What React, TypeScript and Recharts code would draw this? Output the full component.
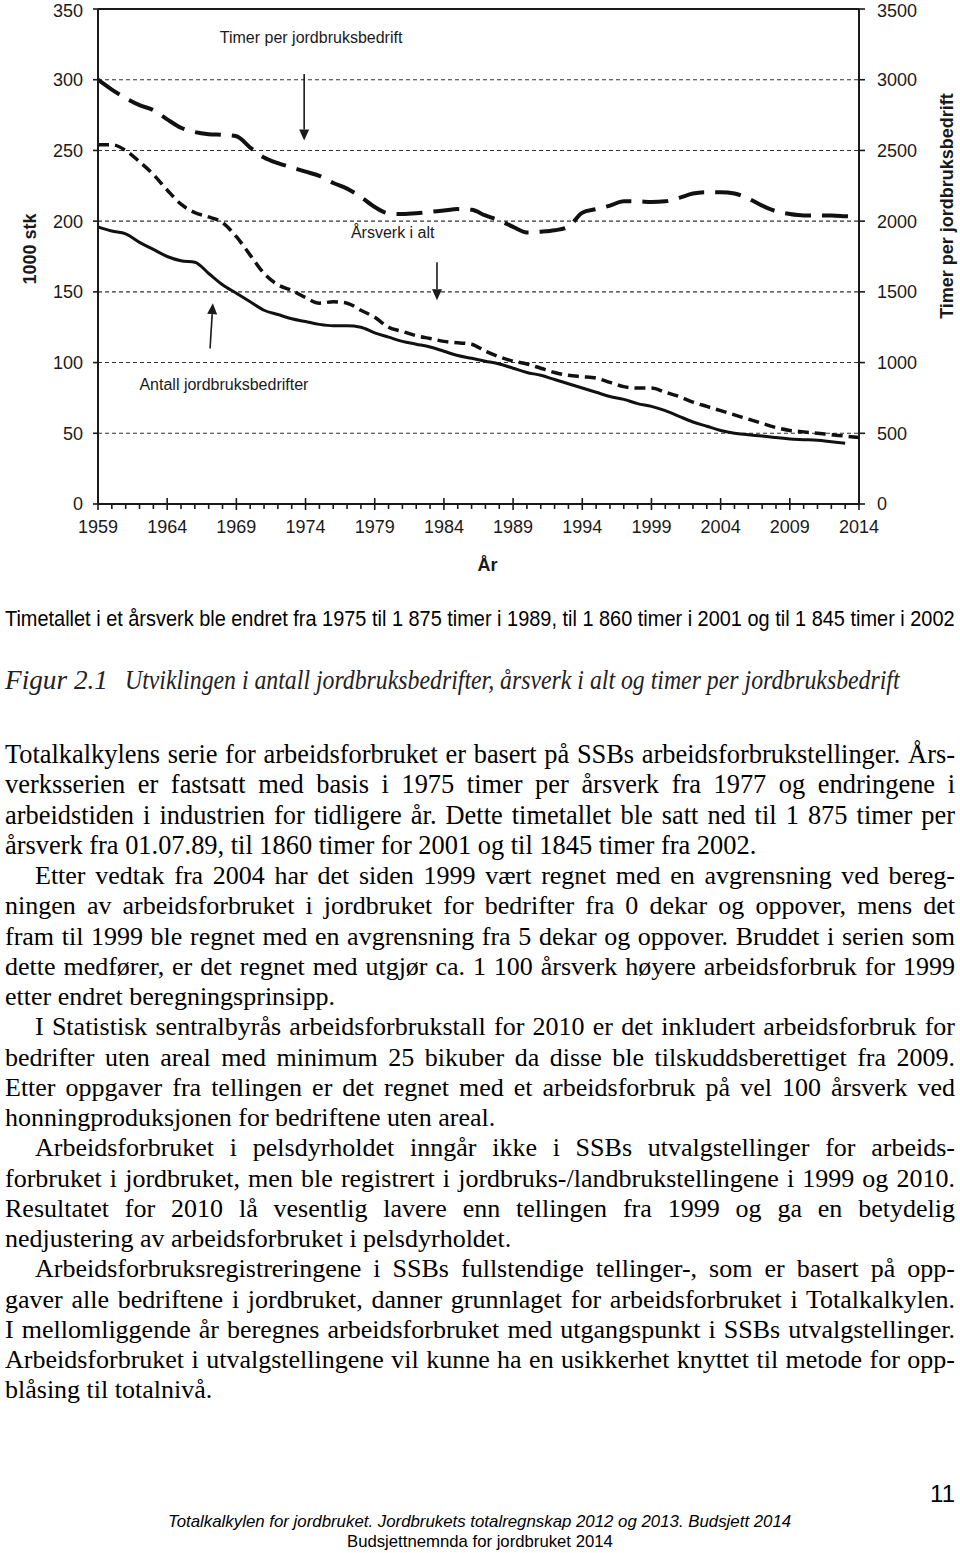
import React, { useLayoutEffect, useRef, useState } from 'react'
import { LineChart, Line, XAxis, YAxis, CartesianGrid, ReferenceLine, ReferenceDot, Label } from 'recharts'

// Values (1000 stk on the left axis, timer on the right axis)
const years = [
  1959, 1960, 1961, 1962, 1963, 1964, 1965, 1966, 1967, 1968, 1969, 1970, 1971, 1972,
  1973, 1974, 1975, 1976, 1977, 1978, 1979, 1980, 1981, 1982, 1983, 1984, 1985, 1986,
  1987, 1988, 1989, 1990, 1991, 1992, 1993, 1994, 1995, 1996, 1997, 1998, 1999, 2000,
  2001, 2002, 2003, 2004, 2005, 2006, 2007, 2008, 2009, 2010, 2011, 2012, 2013, 2014,
]

const antallBedrifter = [
  196, 193, 191, 185, 180, 175, 172, 171, 163, 155, 149, 143, 137, 134,
  131, 129, 127, 126, 126, 125, 121, 118, 115, 113, 111, 108, 105, 103,
  101, 99, 96, 93, 91, 88, 85, 82, 79, 76, 74, 71, 69, 66,
  62, 58, 55, 52, 50, 49, 48, 47, 46, 45.5, 45, 44, 43, null,
]

const arsverkIAlt = [
  254, 254, 250, 242, 233, 222, 212, 206, 203, 199, 189, 176, 163, 155,
  151, 146, 142, 143, 142, 137, 132, 125, 122, 119, 117, 115, 114, 113,
  108, 104, 101, 99, 96, 93, 91, 90, 89, 86, 83, 82, 82, 79,
  76, 72, 69, 66, 63, 60, 57, 54, 52, 51, 50, 49, 48, 47,
]

const timerPerBedrift = [
  3000, 2930, 2870, 2820, 2785, 2720, 2660, 2630, 2615, 2610, 2600, 2520, 2450, 2410,
  2380, 2350, 2320, 2270, 2230, 2170, 2100, 2055, 2050, 2055, 2065, 2075, 2085, 2080,
  2040, 2005, 1960, 1920, 1925, 1935, 1960, 2060, 2085, 2110, 2140, 2140, 2135, 2140,
  2165, 2195, 2205, 2205, 2195, 2160, 2110, 2070, 2050, 2040, 2040, 2040, 2035, 2030,
]

const labelYears = [1959, 1964, 1969, 1974, 1979, 1984, 1989, 1994, 1999, 2004, 2009, 2014]
const leftTicks = [0, 50, 100, 150, 200, 250, 300, 350]
const rightTicks = [0, 500, 1000, 1500, 2000, 2500, 3000, 3500]

const data = years.map((year, i) => ({
  year,
  antall: antallBedrifter[i],
  arsverk: arsverkIAlt[i],
  timer: timerPerBedrift[i],
}))

const noteText = 'Timetallet i et årsverk ble endret fra 1975 til 1 875 timer i 1989, til 1 860 timer i 2001 og til 1 845 timer i 2002'
const figNumber = 'Figur 2.1'
const figTitle = 'Utviklingen i antall jordbruksbedrifter, årsverk i alt og timer per jordbruksbedrift'

const bodyLines = [
  'Totalkalkylens serie for arbeidsforbruket er basert på SSBs arbeidsforbrukstellinger. Års-',
  'verksserien er fastsatt med basis i 1975 timer per årsverk fra 1977 og endringene i',
  'arbeidstiden i industrien for tidligere år. Dette timetallet ble satt ned til 1 875 timer per',
  'årsverk fra 01.07.89, til 1860 timer for 2001 og til 1845 timer fra 2002.',
  'Etter vedtak fra 2004 har det siden 1999 vært regnet med en avgrensning ved bereg-',
  'ningen av arbeidsforbruket i jordbruket for bedrifter fra 0 dekar og oppover, mens det',
  'fram til 1999 ble regnet med en avgrensning fra 5 dekar og oppover. Bruddet i serien som',
  'dette medfører, er det regnet med utgjør ca. 1 100 årsverk høyere arbeidsforbruk for 1999',
  'etter endret beregningsprinsipp.',
  'I Statistisk sentralbyrås arbeidsforbrukstall for 2010 er det inkludert arbeidsforbruk for',
  'bedrifter uten areal med minimum 25 bikuber da disse ble tilskuddsberettiget fra 2009.',
  'Etter oppgaver fra tellingen er det regnet med et arbeidsforbruk på vel 100 årsverk ved',
  'honningproduksjonen for bedriftene uten areal.',
  'Arbeidsforbruket i pelsdyrholdet inngår ikke i SSBs utvalgstellinger for arbeids-',
  'forbruket i jordbruket, men ble registrert i jordbruks-/landbrukstellingene i 1999 og 2010.',
  'Resultatet for 2010 lå vesentlig lavere enn tellingen fra 1999 og ga en betydelig',
  'nedjustering av arbeidsforbruket i pelsdyrholdet.',
  'Arbeidsforbruksregistreringene i SSBs fullstendige tellinger-, som er basert på opp-',
  'gaver alle bedriftene i jordbruket, danner grunnlaget for arbeidsforbruket i Totalkalkylen.',
  'I mellomliggende år beregnes arbeidsforbruket med utgangspunkt i SSBs utvalgstellinger.',
  'Arbeidsforbruket i utvalgstellingene vil kunne ha en usikkerhet knyttet til metode for opp-',
  'blåsing til totalnivå.',
]
const indentedLines = [4, 9, 13, 17]
const paragraphEnds = [3, 8, 12, 16, 21]
const firstParagraphLines = 4

const footer1 = 'Totalkalkylen for jordbruket. Jordbrukets totalregnskap 2012 og 2013. Budsjett 2014'
const footer2 = 'Budsjettnemnda for jordbruket 2014'
const pageNumber = '11'

const SANS = '"Liberation Sans", Arial, sans-serif'
const NARROW = '"Liberation Sans Narrow", "Liberation Sans", Arial, sans-serif'
const SERIF = '"Liberation Serif", "Times New Roman", serif'
const INK = '#1a1a1a'

function YearTick(props: any) {
  const { x, y, payload } = props
  const major = labelYears.includes(payload.value)
  return (
    <g>
      <line x1={x} x2={x} y1={major ? y - 6 : y} y2={major ? y + 6 : y + 5} stroke={INK} strokeWidth={1.6} />
      {major && (
        <text x={x} y={y + 23} textAnchor="middle" dominantBaseline="central" fontSize={18} fontFamily={SANS} fill={INK}>
          {payload.value}
        </text>
      )}
    </g>
  )
}

function Arrow(props: any) {
  const { x1, y1, x2, y2 } = props
  const ang = Math.atan2(y2 - y1, x2 - x1)
  const bx = x2 - 11 * Math.cos(ang)
  const by = y2 - 11 * Math.sin(ang)
  const px = -Math.sin(ang) * 5
  const py = Math.cos(ang) * 5
  return (
    <g>
      <line x1={x1} y1={y1} x2={bx} y2={by} stroke={INK} strokeWidth={1.6} />
      <polygon points={`${x2},${y2} ${bx + px},${by + py} ${bx - px},${by - py}`} fill={INK} />
    </g>
  )
}

const noteLabel = (text: string) => (p: any) => (
  <text x={p.cx} y={p.cy} textAnchor="middle" dominantBaseline="central" fontSize={16} fontFamily={SANS} fill={INK}>
    {text}
  </text>
)

// measures a line after mount: 'words' spreads the word gaps, 'scale' squeezes the glyphs
function FitText({ x, y, width, mode, children, ...rest }: any) {
  const ref = useRef<SVGTextElement>(null)
  const [fit, setFit] = useState<{ ws?: number; sx?: number }>({})
  useLayoutEffect(() => {
    const el = ref.current
    if (!el) return
    const natural = el.getComputedTextLength()
    if (mode === 'scale') {
      setFit({ sx: width / natural })
    } else {
      const gaps = String(children).split(' ').length - 1
      setFit({ ws: gaps > 0 ? (width - natural) / gaps : 0 })
    }
  }, [])
  const sx = fit.sx ?? 1
  return (
    <text
      ref={ref}
      x={0}
      y={0}
      transform={`translate(${x},${y}) scale(${sx},1)`}
      style={fit.ws !== undefined ? { wordSpacing: `${fit.ws}px` } : undefined}
      {...rest}
    >
      {children}
    </text>
  )
}

function Chart() {
  return (
    <LineChart width={960} height={580} data={data} margin={{ top: 9, right: 1, bottom: 36, left: 38 }}>
      <CartesianGrid yAxisId="left" horizontal vertical={false} stroke="#333" strokeDasharray="4 3" strokeWidth={1.1} />
      <XAxis
        dataKey="year"
        type="number"
        domain={[1959, 2014]}
        ticks={years}
        interval={0}
        tickSize={0}
        tickMargin={0}
        tick={<YearTick />}
        axisLine={{ stroke: INK, strokeWidth: 2 }}
        height={40}
        allowDecimals={false}
      >
        <Label
          content={(p: any) => (
            <text x={p.viewBox.x + p.viewBox.width / 2 + 9} y={p.viewBox.y + 61} textAnchor="middle" dominantBaseline="central" fontSize={18} fontWeight="bold" fontFamily={SANS} fill={INK}>
              År
            </text>
          )}
        />
      </XAxis>
      <YAxis
        yAxisId="left"
        domain={[0, 350]}
        ticks={leftTicks}
        width={60}
        tickSize={5}
        tickMargin={10}
        tick={{ fontSize: 18, fontFamily: SANS, fill: INK }}
        tickLine={{ stroke: INK, strokeWidth: 1.6 }}
        axisLine={{ stroke: INK, strokeWidth: 2 }}
      >
        <Label
          content={(p: any) => (
            <text
              x={30}
              y={p.viewBox.y + 240}
              transform={`rotate(-90, 30, ${p.viewBox.y + 240})`}
              textAnchor="middle"
              dominantBaseline="central"
              fontSize={18}
              fontWeight="bold"
              fontFamily={SANS}
              fill={INK}
            >
              1000 stk
            </text>
          )}
        />
      </YAxis>
      <YAxis
        yAxisId="right"
        orientation="right"
        domain={[0, 3500]}
        ticks={rightTicks}
        width={100}
        tickSize={6}
        tickMargin={12}
        tick={{ fontSize: 18, fontFamily: SANS, fill: INK }}
        tickLine={{ stroke: INK, strokeWidth: 1.6 }}
        axisLine={{ stroke: INK, strokeWidth: 2 }}
      >
        <Label
          content={(p: any) => (
            <text
              x={p.viewBox.x + 88}
              y={p.viewBox.y + 197}
              transform={`rotate(-90, ${p.viewBox.x + 88}, ${p.viewBox.y + 197})`}
              textAnchor="middle"
              dominantBaseline="central"
              fontSize={18}
              fontWeight="bold"
              fontFamily={SANS}
              fill={INK}
            >
              Timer per jordbruksbedrift
            </text>
          )}
        />
      </YAxis>
      <ReferenceLine yAxisId="left" y={350} stroke={INK} strokeWidth={2} />

      <Line yAxisId="right" dataKey="timer" type="monotone" stroke="#111" strokeWidth={4} strokeDasharray="26 11" dot={false} isAnimationActive={false} />
      <Line yAxisId="left" dataKey="arsverk" type="monotone" stroke="#111" strokeWidth={3.5} strokeDasharray="11 6" dot={false} isAnimationActive={false} />
      <Line yAxisId="left" dataKey="antall" type="monotone" stroke="#111" strokeWidth={3} dot={false} isAnimationActive={false} />

      <ReferenceDot yAxisId="left" x={1974.4} y={330} r={0} shape={noteLabel('Timer per jordbruksbedrift')} />
      <ReferenceLine yAxisId="left" segment={[{ x: 1973.9, y: 304 }, { x: 1973.9, y: 257 }]} shape={<Arrow />} />
      <ReferenceDot yAxisId="left" x={1980.3} y={192} r={0} shape={noteLabel('Årsverk i alt')} />
      <ReferenceLine yAxisId="left" segment={[{ x: 1983.5, y: 171 }, { x: 1983.5, y: 144 }]} shape={<Arrow />} />
      <ReferenceDot yAxisId="left" x={1968.1} y={84.5} r={0} shape={noteLabel('Antall jordbruksbedrifter')} />
      <ReferenceLine yAxisId="left" segment={[{ x: 1967.1, y: 110 }, { x: 1967.3, y: 142 }]} shape={<Arrow />} />
    </LineChart>
  )
}

function PageText() {
  return (
    <svg width={960} height={1553} style={{ position: 'absolute', left: 0, top: 0, pointerEvents: 'none' }}>
      <FitText x={5} y={626} width={950} mode="scale" fontSize={22} fontFamily={NARROW} fill="#000">
        {noteText}
      </FitText>
      <FitText x={5} y={689} width={103} mode="scale" fontSize={27} fontStyle="italic" fontFamily={SERIF} fill="#222">
        {figNumber}
      </FitText>
      <FitText x={125} y={689} width={775} mode="scale" fontSize={27} fontStyle="italic" fontFamily={SERIF} fill="#222">
        {figTitle}
      </FitText>
      {bodyLines.map((line, i) => {
        const x = indentedLines.includes(i) ? 35 : 5
        const yy = 763 + i * 30.25
        const fs = i < firstParagraphLines ? 26.4 : 26
        if (paragraphEnds.includes(i)) {
          return (
            <text key={i} x={x} y={yy} fontSize={fs} fontFamily={SERIF} fill="#000">
              {line}
            </text>
          )
        }
        return (
          <FitText key={i} x={x} y={yy} width={955 - x} mode="words" fontSize={fs} fontFamily={SERIF} fill="#000">
            {line}
          </FitText>
        )
      })}
      <text x={955} y={1502} textAnchor="end" fontSize={24} fontFamily={NARROW} fill="#000">
        {pageNumber}
      </text>
      <FitText x={168} y={1527} width={624} mode="scale" fontSize={16} fontStyle="italic" fontFamily={NARROW} fill="#000">
        {footer1}
      </FitText>
      <FitText x={347} y={1547} width={266} mode="scale" fontSize={16} fontFamily={NARROW} fill="#000">
        {footer2}
      </FitText>
    </svg>
  )
}

export default function App() {
  return (
    <div style={{ position: 'absolute', left: 0, top: 0, width: 960, height: 1553, background: '#fff' }}>
      <Chart />
      <PageText />
    </div>
  )
}
